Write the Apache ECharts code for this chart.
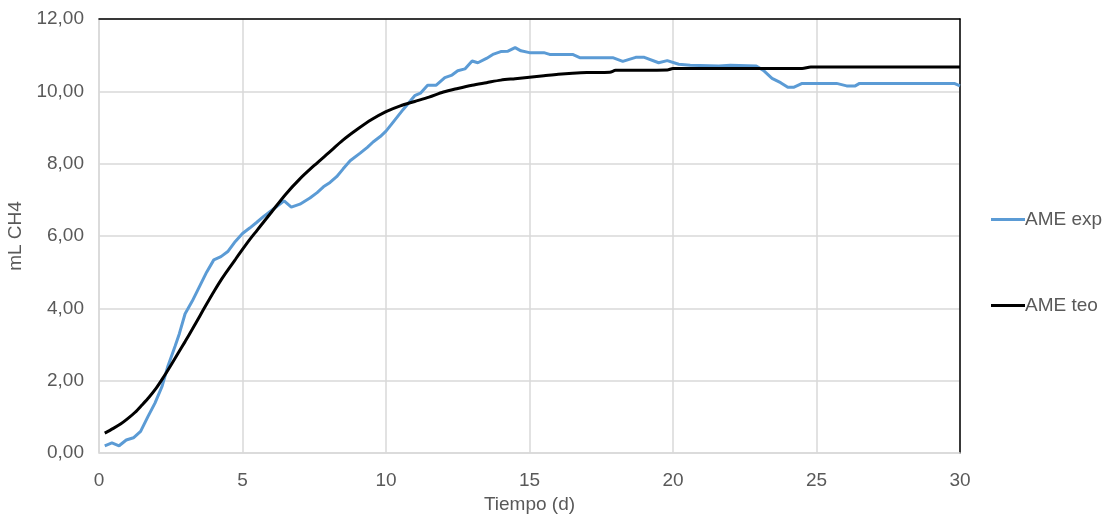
<!DOCTYPE html>
<html>
<head>
<meta charset="utf-8">
<script src="https://cdn.jsdelivr.net/npm/echarts@6/dist/echarts.min.js"></script>
<style>html,body{margin:0;padding:0;background:#fff}#c{width:1107px;height:524px}</style>
</head>
<body>
<div id="c"></div>
<script>
const expT = [0.2,0.45,0.7,0.95,1.2,1.45,1.7,1.95,2.2,2.4,2.65,2.8,3.0,3.25,3.5,3.75,4.0,4.25,4.5,4.75,5.0,5.25,5.5,5.75,6.0,6.25,6.45,6.7,7.0,7.35,7.6,7.82,8.05,8.28,8.5,8.75,9.1,9.35,9.55,9.8,10.0,10.25,10.6,11.0,11.2,11.45,11.75,12.05,12.3,12.5,12.75,13.0,13.2,13.5,13.75,14.0,14.25,14.5,14.7,15.0,15.5,15.7,16.5,16.75,17.9,18.25,18.7,19.0,19.5,19.8,20.2,20.6,21.6,22.0,22.9,23.15,23.45,23.75,24.0,24.2,24.5,25.7,26.05,26.35,26.5,29.8,30.0];
const expV = [0.2,0.28,0.2,0.36,0.42,0.6,1.0,1.38,1.85,2.4,2.95,3.3,3.85,4.2,4.6,5.0,5.34,5.43,5.58,5.85,6.07,6.22,6.38,6.55,6.7,6.85,6.97,6.8,6.88,7.05,7.2,7.36,7.48,7.64,7.85,8.08,8.29,8.45,8.6,8.75,8.9,9.15,9.5,9.88,9.95,10.17,10.17,10.38,10.45,10.57,10.62,10.84,10.79,10.91,11.03,11.1,11.11,11.21,11.12,11.07,11.07,11.02,11.02,10.93,10.93,10.83,10.94,10.94,10.79,10.85,10.75,10.72,10.70,10.72,10.70,10.58,10.36,10.24,10.11,10.11,10.22,10.22,10.15,10.15,10.22,10.22,10.15];
const teoT = [0.2,0.5,0.75,1.0,1.25,1.5,1.75,2.0,2.25,2.5,2.75,3.0,3.25,3.5,3.75,4.0,4.25,4.5,4.75,5.0,5.25,5.5,5.75,6.0,6.5,7.0,7.5,8.0,8.5,9.0,9.5,10.0,10.5,11.0,11.5,12.0,12.5,13.0,13.5,14.0,14.5,15.0,15.5,16.0,16.5,17.0,17.8,18.0,19.8,20.0,24.5,24.8,30.0];
const teoV = [0.55,0.68,0.8,0.95,1.12,1.33,1.55,1.8,2.1,2.42,2.75,3.08,3.42,3.77,4.12,4.46,4.78,5.07,5.35,5.63,5.9,6.15,6.4,6.65,7.15,7.58,7.95,8.3,8.65,8.95,9.22,9.44,9.6,9.72,9.84,9.98,10.08,10.17,10.24,10.31,10.35,10.39,10.43,10.47,10.5,10.52,10.53,10.58,10.59,10.63,10.63,10.67,10.67];
const seriesNames = ['AME exp','AME teo'];
const xTitle = 'Tiempo (d)';
const yTitle = 'mL CH4';

const font = 'Liberation Sans, Arial, sans-serif';
const txt = '#595959';
const fs = 19;
const chart = echarts.init(document.getElementById('c'));
chart.setOption({
  animation:false,
  grid:{left:99,right:147,top:19,bottom:71,containLabel:false,outerBoundsMode:'none'},
  legend:{
    orient:'vertical', left:986, top:205, itemGap:67,
    itemWidth:34, itemHeight:3, icon:'rect',
    textStyle:{fontFamily:font,fontSize:fs,color:txt,padding:[0,0,0,-5]},
    data:seriesNames
  },
  xAxis:[{
    type:'value', min:0, max:30, interval:5,
    name:xTitle, nameLocation:'middle', nameGap:42,
    nameTextStyle:{fontFamily:font,fontSize:fs,color:txt},
    axisLine:{show:true,lineStyle:{color:'#d9d9d9',width:1.5}},
    axisTick:{show:false},
    axisLabel:{fontFamily:font,fontSize:fs,color:txt,margin:18},
    splitLine:{show:true,lineStyle:{color:'#d9d9d9',width:1.5}}
  },{
    type:'value', min:0, max:30, position:'top',
    axisLine:{show:true,onZero:false,lineStyle:{color:'#000',width:1.5}},
    axisTick:{show:false}, axisLabel:{show:false}, splitLine:{show:false}
  }],
  yAxis:[{
    type:'value', min:0, max:12, interval:2,
    name:yTitle, nameLocation:'middle', nameGap:70, nameRotate:90,
    nameTextStyle:{fontFamily:font,fontSize:fs,color:txt},
    axisLine:{show:true,lineStyle:{color:'#d9d9d9',width:1.5}},
    axisTick:{show:false},
    axisLabel:{fontFamily:font,fontSize:fs,color:txt,margin:15,
      formatter:v=>v.toFixed(2).replace('.',',')},
    splitLine:{show:true,lineStyle:{color:'#d9d9d9',width:1.5}}
  },{
    type:'value', min:0, max:12, position:'right',
    axisLine:{show:true,onZero:false,lineStyle:{color:'#000',width:1.5}},
    axisTick:{show:false}, axisLabel:{show:false}, splitLine:{show:false}
  }],
  series:[{
    name:seriesNames[0], type:'line', showSymbol:false, symbol:'none',
    lineStyle:{color:'#5B9BD5',width:3}, itemStyle:{color:'#5B9BD5'},
    data:expT.map((t,i)=>[t,expV[i]]), z:3
  },{
    name:seriesNames[1], type:'line', showSymbol:false, symbol:'none', smooth:0.3,
    lineStyle:{color:'#000',width:3}, itemStyle:{color:'#000'},
    data:teoT.map((t,i)=>[t,teoV[i]]), z:4
  }]
});
</script>
</body>
</html>
